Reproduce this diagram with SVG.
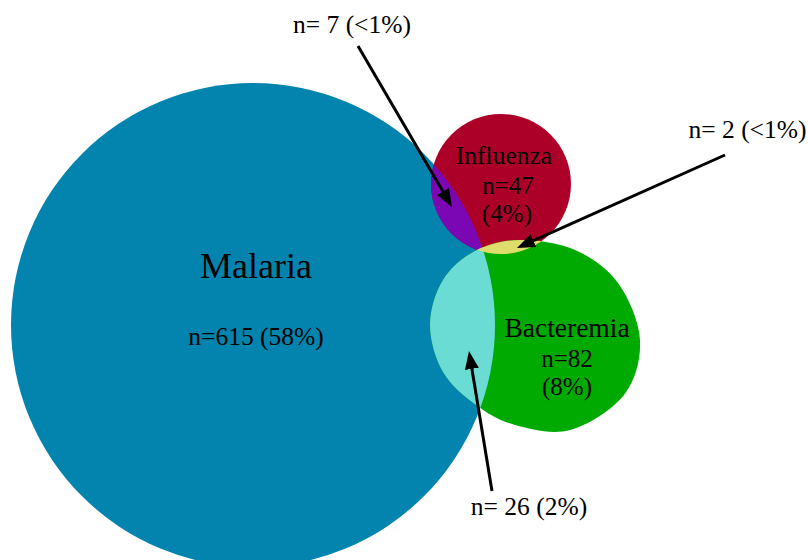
<svg xmlns="http://www.w3.org/2000/svg" width="808" height="560" viewBox="0 0 808 560" font-family="'Liberation Serif', 'Times New Roman', 'DejaVu Serif', serif">
  <style>
    text { font-family: "Liberation Serif", "Times New Roman", "DejaVu Serif", serif; fill: #000; text-anchor: middle; }
    .lbl { font-size: 25.5px; }
    .conn { stroke: #000; stroke-width: 3; fill: none; marker-end: url(#ah); }
  </style>
  <defs>
    <marker id="ah" viewBox="0 0 18 14" markerWidth="18" markerHeight="14" markerUnits="userSpaceOnUse" refX="8" refY="7" orient="auto">
      <path d="M0,0 L18,7 L0,14 z" fill="#000"/>
    </marker>
    <circle id="malC" cx="253" cy="325" r="242"/>
    <circle id="infC" cx="501" cy="184" r="70"/>
    <path id="bacP" d="M520,240 C536.7,239.8 558.7,242.8 575,250 C591.3,257.2 607.2,268 618,283 C628.8,298 639,321.3 640,340 C641,358.7 635.7,380 624,395 C612.3,410 588.2,425 570,430 C551.8,435 530.7,429.2 515,425 C499.3,420.8 488,413.8 476,405 C464,396.2 450.7,385.3 443,372 C435.3,358.7 430,340.3 430,325 C430,309.7 435.5,292.3 443,280 C450.5,267.7 462.2,257.7 475,251 C487.8,244.3 503.3,240.2 520,240 Z"/>
    <clipPath id="clipMal"><use href="#malC"/></clipPath>
    <clipPath id="clipBac"><use href="#bacP"/></clipPath>
  </defs>

  <g id="malaria">
    <use href="#malC" fill="#0284AE"/>
    <text x="256" y="278" font-family="Liberation Serif, serif" font-size="36">Malaria</text>
    <text x="256" y="345" font-family="Liberation Serif, serif" font-size="25.5">n=615 (58%)</text>
  </g>

  <g id="influenza">
    <use href="#infC" fill="#AD0028"/>
  </g>

  <g id="bacteremia">
    <use href="#bacP" fill="#00AA00"/>
  </g>

  <g id="overlaps">
    <use href="#infC" fill="#7B07B4" clip-path="url(#clipMal)"/>
    <use href="#bacP" fill="#6BDCD4" clip-path="url(#clipMal)"/>
    <use href="#infC" fill="#DEDC6A" clip-path="url(#clipBac)"/>
  </g>

  <g id="node-texts" font-family="Liberation Serif, serif">
    <text x="504" y="164" font-size="25.5">Influenza</text>
    <text x="508" y="194" font-size="25">n=47</text>
    <text x="507" y="222" font-size="25">(4%)</text>
    <text x="567" y="337" font-size="27.5">Bacteremia</text>
    <text x="567" y="367" font-size="25">n=82</text>
    <text x="567" y="395" font-size="25">(8%)</text>
  </g>

  <g id="connectors">
    <line class="conn" x1="358" y1="46" x2="447" y2="198.4"/>
    <line class="conn" x1="725" y1="155" x2="526.1" y2="243.9"/>
    <line class="conn" x1="492" y1="491" x2="470.6" y2="360.9"/>
  </g>

  <g id="labels" font-family="Liberation Serif, serif" font-size="25.5">
    <text x="352" y="33">n= 7 (&lt;1%)</text>
    <text x="747.5" y="138">n= 2 (&lt;1%)</text>
    <text x="529" y="515">n= 26 (2%)</text>
  </g>
</svg>
